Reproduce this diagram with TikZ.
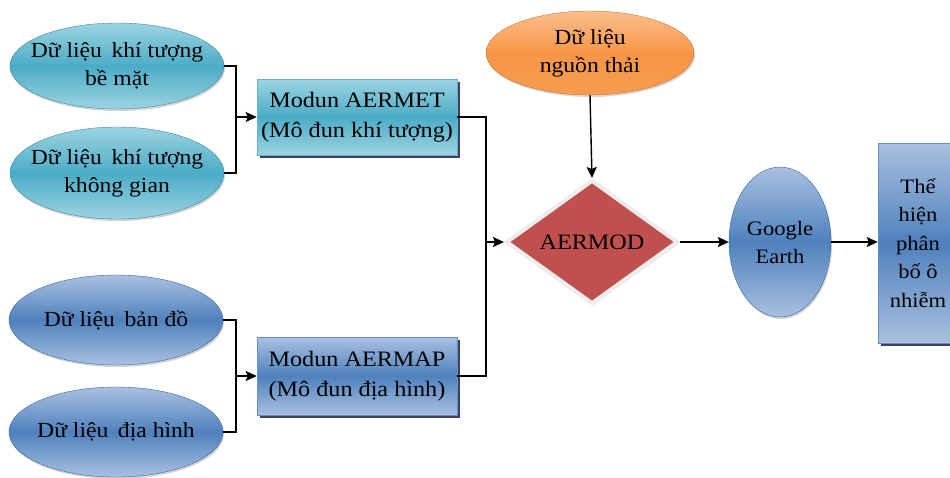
\documentclass[tikz,border=0pt]{standalone}
\usepackage{fontspec}
\setmainfont[FakeStretch=1.1]{Liberation Serif}
\usetikzlibrary{shapes.geometric,arrows.meta,shadows}
\definecolor{tealM}{HTML}{4BACC6}
\definecolor{tealL}{HTML}{9DD3E2}
\definecolor{blueM}{HTML}{4F81BD}
\definecolor{blueL}{HTML}{A9C0E0}
\definecolor{orM}{HTML}{F79646}
\definecolor{orL}{HTML}{FBBE8C}
\definecolor{redM}{HTML}{C0504D}
\tikzset{
  base/.style={align=center, inner sep=0pt, font=\fontsize{21.5}{28}\selectfont},
  ellbase/.style={base, ellipse, inner xsep=-20pt, inner ysep=-12pt},
  tealell/.style={ellbase, top color=tealL, bottom color=tealL, middle color=tealM,
    draw=tealM!80!black, line width=0.4pt,
    drop shadow={shadow xshift=1pt, shadow yshift=-2pt, opacity=0.35}},
  blueell/.style={ellbase, top color=blueL, bottom color=blueL, middle color=blueM,
    draw=blueM!80!black, line width=0.4pt,
    drop shadow={shadow xshift=1pt, shadow yshift=-2pt, opacity=0.35}},
  orell/.style={ellbase, top color=orL, bottom color=orM!85!orL, middle color=orM,
    draw=orM!80!black, line width=0.4pt,
    drop shadow={shadow xshift=1pt, shadow yshift=-2pt, opacity=0.3}},
  tealbox/.style={base, rectangle, top color=tealL, bottom color=tealL, middle color=tealM,
    draw=tealM!90!white, line width=0.6pt, font=\fontsize{22}{30}\selectfont,
    drop shadow={shadow xshift=3pt, shadow yshift=-3pt, opacity=0.75, fill=black!80!blue}},
  bluebox/.style={base, rectangle, top color=blueL, bottom color=blueL, middle color=blueM,
    draw=blueM!90!white, line width=0.6pt, font=\fontsize{22}{30}\selectfont,
    drop shadow={shadow xshift=3pt, shadow yshift=-3pt, opacity=0.75, fill=black!80!blue}},
  dia/.style={base, diamond, fill=redM, draw=white!93!black, line width=4pt,
    font=\fontsize{22}{28}\selectfont,
    drop shadow={shadow xshift=1pt, shadow yshift=-2pt, opacity=0.25}},
  conn/.style={line width=1.4pt, black},
  arr/.style={conn, -{Stealth[length=11pt,width=10pt,inset=2pt]}},
}
\begin{document}
\begin{tikzpicture}[x=1pt,y=-1pt]
\useasboundingbox (0,0) rectangle (950,477);
\clip (0,0) rectangle (950,477);
% left ellipses
\node[tealell, minimum width=214pt, minimum height=86pt] (e1) at (117,66) {Dữ liệu\, khí tượng\\bề mặt};
\node[tealell, minimum width=214pt, minimum height=92pt] (e2) at (117,173) {Dữ liệu\, khí tượng\\không gian};
\node[blueell, minimum width=214pt, minimum height=90pt] (e3) at (116,320) {Dữ liệu\, bản đồ};
\node[blueell, minimum width=214pt, minimum height=90pt] (e4) at (116,432) {Dữ liệu\, địa hình};
% module boxes
\node[tealbox, minimum width=200pt, minimum height=76pt] (b1) at (357,117) {Modun AERMET\\(Mô đun khí tượng)};
\node[bluebox, minimum width=200pt, minimum height=78pt] (b2) at (357,376) {Modun AERMAP\\(Mô đun địa hình)};
% source
\node[orell, minimum width=208pt, minimum height=84pt] (src) at (590,53) {Dữ liệu\\nguồn thải};
% AERMOD
\node[dia, minimum width=172pt, minimum height=124pt, aspect=1.39] (mod) at (592,242) {AERMOD};
% Google Earth
\node[blueell, font=\fontsize{20.5}{28}\selectfont, minimum width=102pt, minimum height=150pt] (ge) at (780,242) {Google\\Earth};
% result box
\node[bluebox, font=\fontsize{20.5}{28.5}\selectfont, minimum width=80pt, minimum height=200pt] (res) at (918,243) {Thể\\hiện\\phân\\bố ô\\nhiễm};
% junctions
\coordinate (j1) at (236,117);
\coordinate (j2) at (236,376);
\coordinate (j3) at (486,242);
% connectors
\draw[conn] (e1.east) -| (j1);
\draw[conn] (e2.east) -| (j1);
\draw[arr] (j1) -- (b1.west);
\draw[conn] (e3.east) -| (j2);
\draw[conn] (e4.east) -| (j2);
\draw[arr] (j2) -- (b2.west);
\draw[conn] (b1.east) -| (j3);
\draw[conn] (b2.east) -| (j3);
\draw[arr] (j3) -- (mod.west);
\draw[arr] (src.south) -- (mod.north);
\draw[arr] (mod.east) -- (ge.west);
\draw[arr] (ge.east) -- (ge.east -| res.west);
\end{tikzpicture}
\end{document}
